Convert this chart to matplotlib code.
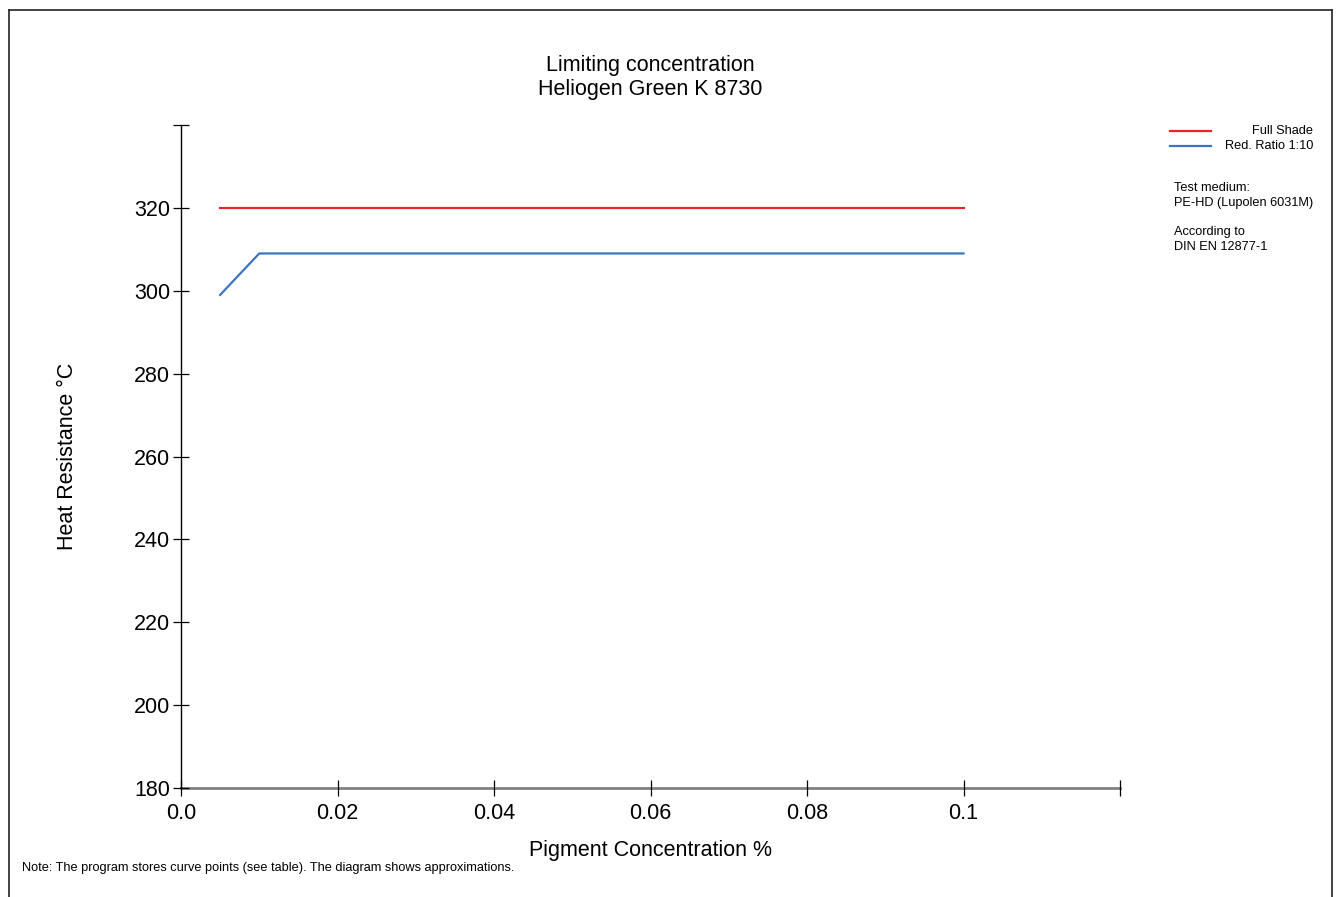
import matplotlib
matplotlib.use("Agg")
import matplotlib.pyplot as plt
from matplotlib.lines import Line2D

plt.rcParams["font.family"] = ["Liberation Sans", "DejaVu Sans"]

# data
conc_full = [0.005, 0.1]
heat_full = [320, 320]
conc_red = [0.005, 0.01, 0.1]
heat_red = [299, 309, 309]
x_ticks = [0.0, 0.02, 0.04, 0.06, 0.08, 0.1, 0.12]
x_labels = ["0.0", "0.02", "0.04", "0.06", "0.08", "0.1", ""]
y_ticks = [180, 200, 220, 240, 260, 280, 300, 320, 340]
y_labels = ["180", "200", "220", "240", "260", "280", "300", "320", ""]

W, H = 1338, 897
fs = 15.5
small = 9.2

fig = plt.figure(figsize=(W / 100, H / 100), dpi=100)
ax = fig.add_axes([181 / W, 1 - 788 / H, (1120 - 181) / W, (788 - 125) / H])

ax.plot(conc_full, heat_full, color="#e8262b", lw=1.6)
ax.plot(conc_red, heat_red, color="#3c74c2", lw=1.6)

ax.set_xlim(0, 0.12)
ax.set_ylim(180, 340)
ax.set_xticks(x_ticks)
ax.set_xticklabels(x_labels)
ax.set_yticks(y_ticks)
ax.set_yticklabels(y_labels)
ax.tick_params(axis="both", direction="inout", length=12, width=0.9,
               labelsize=fs, color="black")
ax.tick_params(axis="x", pad=5)
ax.tick_params(axis="y", pad=2)

for s in ["top", "right"]:
    ax.spines[s].set_visible(False)
ax.spines["left"].set_color("black")
ax.spines["left"].set_linewidth(1.0)
ax.spines["bottom"].set_color("#808080")
ax.spines["bottom"].set_linewidth(2.0)
ax.spines["bottom"].set_zorder(0.5)

ax.set_xlabel("Pigment Concentration %", fontsize=fs, labelpad=11)
ax.set_ylabel("Heat Resistance °C", fontsize=fs, labelpad=40)

fig.text(650 / W, 1 - 65 / H, "Limiting concentration", ha="center", va="center", fontsize=fs)
fig.text(650 / W, 1 - 89 / H, "Heliogen Green K 8730", ha="center", va="center", fontsize=fs)

# legend drawn by hand
fig.add_artist(Line2D([1170 / W, 1211 / W], [1 - 131 / H] * 2, color="#e8262b", lw=1.6))
fig.add_artist(Line2D([1170 / W, 1211 / W], [1 - 146 / H] * 2, color="#3c74c2", lw=1.6))
fig.text(1313 / W, 1 - 131 / H, "Full Shade", ha="right", va="center", fontsize=small)
fig.text(1313 / W, 1 - 146 / H, "Red. Ratio 1:10", ha="right", va="center", fontsize=small)
fig.text(1174 / W, 1 - 188 / H, "Test medium:", ha="left", va="center", fontsize=small)
fig.text(1174 / W, 1 - 203 / H, "PE-HD (Lupolen 6031M)", ha="left", va="center", fontsize=small)
fig.text(1174 / W, 1 - 232 / H, "According to", ha="left", va="center", fontsize=small)
fig.text(1174 / W, 1 - 247 / H, "DIN EN 12877-1", ha="left", va="center", fontsize=small)

fig.text(22 / W, 1 - 868 / H, "Note: The program stores curve points (see table). The diagram shows approximations.",
         ha="left", va="center", fontsize=small)

# outer frame (open at the bottom)
fig.add_artist(Line2D([9 / W, 9 / W], [0, 1 - 10 / H], color="#222222", lw=1.2))
fig.add_artist(Line2D([9 / W, 1332 / W], [1 - 10 / H] * 2, color="#222222", lw=1.2))
fig.add_artist(Line2D([1332 / W, 1332 / W], [0, 1 - 10 / H], color="#222222", lw=1.2))

fig.savefig("out.png", dpi=100)
